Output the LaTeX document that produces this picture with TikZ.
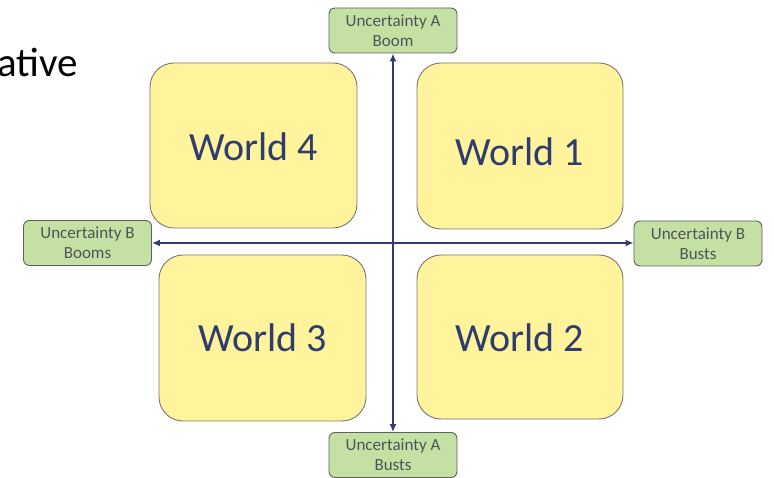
\documentclass[tikz,border=0pt]{standalone}
\usepackage{fontspec}
\setmainfont{Carlito}
\usetikzlibrary{arrows.meta}
\definecolor{wyellow}{RGB}{255,243,156}
\definecolor{wgreen}{RGB}{197,224,163}
\definecolor{wborder}{RGB}{120,120,120}
\definecolor{wtext}{RGB}{47,60,110}
\definecolor{gtext}{RGB}{75,85,90}
\definecolor{axis}{RGB}{47,60,115}
\tikzset{
  world/.style={draw=wborder, line width=0.9pt, fill=wyellow, rounded corners=24pt, inner sep=0pt},
  wlabel/.style={text=wtext, font=\fontsize{40}{44}\selectfont, inner sep=0pt},
  unc/.style={draw=wborder!80!black, line width=0.9pt, fill=wgreen, rounded corners=6pt, text=gtext, font=\fontsize{17}{20}\selectfont, align=center, inner sep=0pt, minimum width=128pt, minimum height=45pt},
  axisline/.style={draw=axis, line width=1.9pt, -{Latex[length=8pt,width=7pt]}}
}
\begin{document}
\begin{tikzpicture}[x=1pt,y=-1pt]
\useasboundingbox (0,0) rectangle (774,478);
\node[anchor=west, font=\fontsize{41}{44}\selectfont, inner sep=0pt] (title) at (-3,62) {ative};
\node[world, minimum width=207pt, minimum height=165pt] (w4) at (253.5,145.5) {};
\node[world, minimum width=206pt, minimum height=166pt] (w1) at (520,146) {};
\node[world, minimum width=207pt, minimum height=166pt] (w3) at (262.5,338) {};
\node[world, minimum width=206pt, minimum height=164pt] (w2) at (520,337) {};
\node[wlabel] (t4) at (w4.center) [yshift=-1.5pt] {World 4};
\node[wlabel] (t1) at (w1.center) [yshift=-6pt] {World 1};
\node[wlabel] (t3) at (w3.center) {World 3};
\node[wlabel] (t2) at (w2.center) [yshift=-1pt] {World 2};
\node[unc] (top) at (393,30.5) {Uncertainty A\\Boom};
\node[unc] (bot) at (393,455) {Uncertainty A\\Busts};
\node[unc] (left) at (87.5,243) {Uncertainty B\\Booms};
\node[unc] (right) at (698,243.5) {Uncertainty B\\Busts};
\coordinate (c) at (393,243);
\draw[axisline] (c) -- (top.south);
\draw[axisline] (c) -- (bot.north);
\draw[axisline] (c) -- (left.east);
\draw[axisline] (c) -- (right.west |- c);
\end{tikzpicture}
\end{document}
